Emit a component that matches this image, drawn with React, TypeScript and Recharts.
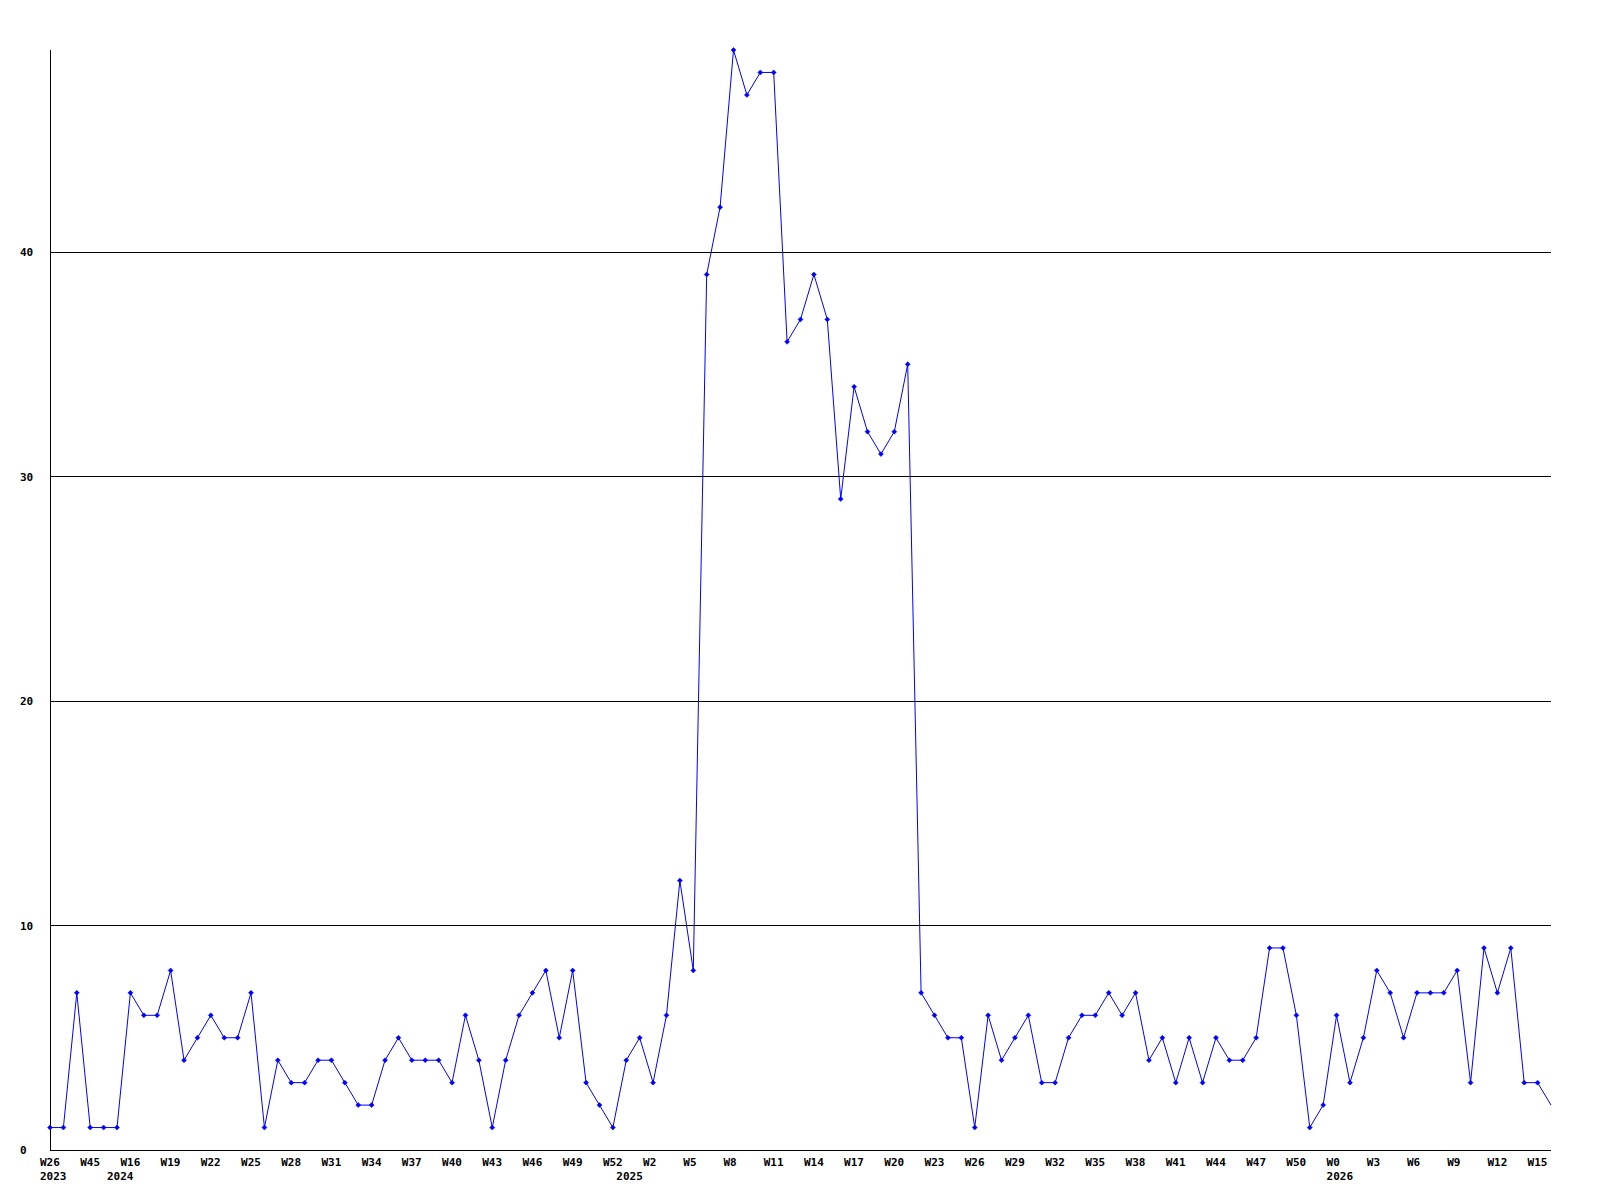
import { LineChart, Line, XAxis, YAxis, CartesianGrid } from "recharts";

// weekly counts, one per point (113 weeks)
const counts = [
  1, 1, 7, 1, 1, 1, 7, 6, 6, 8, 4, 5, 6, 5, 5, 7, 1, 4, 3, 3, 4, 4, 3, 2, 2, 4, 5,
  4, 4, 4, 3, 6, 4, 1, 4, 6, 7, 8, 5, 8, 3, 2, 1, 4, 5, 3, 6, 12, 8,
  39, 42, 49, 47, 48, 48, 36, 37, 39, 37, 29, 34, 32, 31, 32, 35,
  7, 6, 5, 5, 1, 6, 4, 5, 6, 3, 3, 5, 6, 6, 7, 6, 7, 4, 5,
  3, 5, 3, 5, 4, 4, 5, 9, 9, 6, 1, 2, 6, 3, 5, 8, 7, 5, 7, 7, 7, 8, 3, 9, 7, 9, 3, 3, 2,
];

// label on every third point
const weekLabels = [
  "W26", "W45", "W16", "W19", "W22", "W25", "W28", "W31", "W34", "W37", "W40",
  "W43", "W46", "W49", "W52", "W2", "W5", "W8", "W11", "W14", "W17", "W20",
  "W23", "W26", "W29", "W32", "W35", "W38", "W41", "W44", "W47", "W50", "W0",
  "W3", "W6", "W9", "W12", "W15",
];

const years = ["2023", "2024", "2025", "2026"];
const yearStart = [0, 5, 43, 96];

const yTicks = [0, 10, 20, 30, 40];
const gridLines = [10, 20, 30, 40];

const data = counts.map((v, i) => ({ i, v }));

const weekAt: Record<number, string> = {};
weekLabels.forEach((w, k) => (weekAt[k * 3] = w));
const yearAt: Record<number, string> = {};
yearStart.forEach((s, k) => (yearAt[s] = years[k]));

const xTicks = Array.from(
  new Set([...Object.keys(weekAt), ...Object.keys(yearAt)].map(Number))
).sort((a, b) => a - b);

const font = {
  fontFamily: "'DejaVu Sans Mono', monospace",
  fontWeight: "bold" as const,
  fontSize: 11,
  fill: "#000",
};

const WeekTick = ({ x, y, payload }: any) => {
  const w = weekAt[payload.value];
  const yr = yearAt[payload.value];
  return (
    <g>
      {w && (
        <text x={x - 10} y={y} dy={8} textAnchor="start" {...font}>
          {w}
        </text>
      )}
      {yr && (
        <text x={x - 10} y={y} dy={22} textAnchor="start" {...font}>
          {yr}
        </text>
      )}
    </g>
  );
};

const CountTick = ({ x, y, payload }: any) => (
  <text x={x - 22} y={y} dy={4} textAnchor="start" {...font}>
    {payload.value}
  </text>
);

const Marker = (props: any) => {
  const { cx, cy, index } = props;
  if (index === counts.length - 1) return <g key={`m-${index}`} />;
  return (
    <path
      key={`m-${index}`}
      d={`M${cx - 2.5},${cy} L${cx},${cy - 2.5} L${cx + 2.5},${cy} L${cx},${cy + 2.5} Z`}
      fill="#0000ff"
      stroke="#0000ff"
      strokeWidth={0.5}
    />
  );
};

export default function App() {
  return (
    <div style={{ position: "absolute", left: 0, top: 0, background: "#fff" }}>
      <LineChart
        width={1600}
        height={1200}
        data={data}
        margin={{ top: 50, right: 49, left: 0, bottom: 0 }}
      >
        <CartesianGrid
          vertical={false}
          horizontalValues={gridLines}
          stroke="#000"
          strokeDasharray=""
          shapeRendering="crispEdges"
        />
        <XAxis
          dataKey="i"
          type="number"
          domain={[0, counts.length - 1]}
          ticks={xTicks}
          interval={0}
          height={50}
          tickLine={false}
          axisLine={{ stroke: "#000", shapeRendering: "crispEdges" }}
          tick={<WeekTick />}
        />
        <YAxis
          domain={[0, 49]}
          ticks={yTicks}
          width={50}
          interval={0}
          tickLine={false}
          axisLine={{ stroke: "#000", shapeRendering: "crispEdges" }}
          tick={<CountTick />}
        />
        <Line
          type="linear"
          dataKey="v"
          stroke="#0000ff"
          strokeWidth={1}
          dot={Marker}
          activeDot={false}
          isAnimationActive={false}
        />
      </LineChart>
    </div>
  );
}
